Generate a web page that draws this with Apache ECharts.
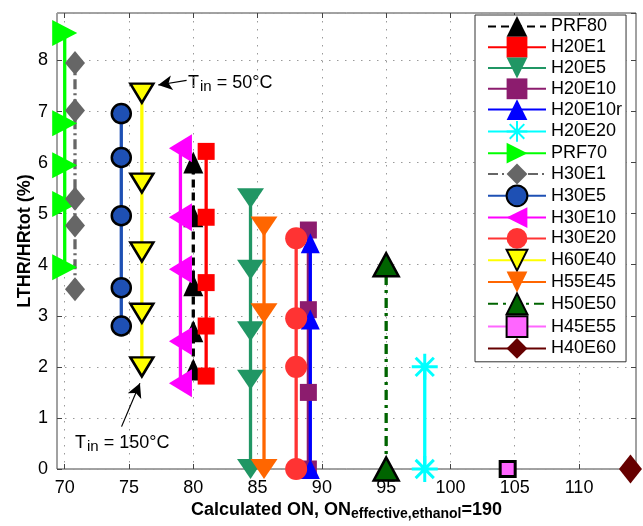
<!DOCTYPE html>
<html><head><meta charset="utf-8">
<script src="https://cdn.jsdelivr.net/npm/echarts@6/dist/echarts.min.js"></script>
<style>html,body{margin:0;padding:0;background:#fff}#c{width:643px;height:526px}</style>
</head><body><div id="c"></div>
<script>
// ---------- DATA ----------
const seriesNames = ['PRF80','H20E1','H20E5','H20E10','H20E10r','H20E20','PRF70','H30E1','H30E5','H30E10','H30E20','H60E40','H55E45','H50E50','H45E55','H40E60'];
const calcON = [80, 81, 84.45, 88.95, 89.1, 98, 70, 70.8, 74.4, 79, 88, 76, 85.5, 95, 104.45, 114];
const lthr_PRF80  = [1.95, 2.7, 3.6, 4.95, 6.0];
const lthr_H20E1  = [1.82, 2.8, 3.65, 4.93, 6.22];
const lthr_H20E5  = [0, 1.75, 2.7, 3.9, 5.3];
const lthr_H20E10 = [0, 1.5, 3.12, 4.68];
const lthr_H20E10r = [0, 2.93, 4.42];
const lthr_H20E20 = [0, 2.0];
const lthr_PRF70  = [3.95, 5.19, 5.95, 6.77, 8.54];
const lthr_H30E1  = [3.52, 4.77, 5.29, 7.02, 7.95];
const lthr_H30E5  = [2.8, 3.55, 4.96, 6.1, 6.96];
const lthr_H30E10 = [1.68, 2.5, 3.91, 4.93, 6.28];
const lthr_H30E20 = [0, 2.0, 2.95, 4.52];
const lthr_H60E40 = [2.0, 3.05, 4.25, 5.6, 7.36];
const lthr_H55E45 = [0, 3.05, 4.75];
const lthr_H50E50 = [0, 4.0];
const lthr_H45E55 = [0];
const lthr_H40E60 = [0];
const lthrValues = [lthr_PRF80, lthr_H20E1, lthr_H20E5, lthr_H20E10, lthr_H20E10r, lthr_H20E20, lthr_PRF70, lthr_H30E1, lthr_H30E5, lthr_H30E10, lthr_H30E20, lthr_H60E40, lthr_H55E45, lthr_H50E50, lthr_H45E55, lthr_H40E60];
const xTickLabels = [70, 75, 80, 85, 90, 95, 100, 105, 110];
const yTickLabels = [0, 1, 2, 3, 4, 5, 6, 7, 8];
const xRange = [69.4, 114.43];
const yRange = [0, 8.93];
// annotation arrows [tail, tip] in data coordinates
const arrow50 = [[79.48, 7.61], [77.27, 7.52]];
const arrow150 = [[74.42, 0.83], [75.85, 1.68]];

// ---------- STYLE ----------
const FONT = 'Liberation Sans, Arial, Helvetica, sans-serif';
const ASTER = 'path://M0,-10L0,10M-10,0L10,0M-7,-7L7,7M-7,7L7,-7';
const styles = {
  PRF80:   {color:'#000000', line:[8,5], symbol:'triangle', size:[20,22]},
  H20E1:   {color:'#ff0000', symbol:'rect', size:[17,17]},
  H20E5:   {color:'#209664', symbol:'triangle', size:[27,20], rotate:180},
  H20E10:  {color:'#8c1c6e', symbol:'rect', size:[17,17]},
  H20E10r: {color:'#0000ff', symbol:'triangle', size:[19,20]},
  H20E20:  {color:'#00ffff', symbol:ASTER, size:[26,26], border:'#00ffff', bw:3},
  PRF70:   {color:'#00ff00', symbol:'triangle', size:[26,25], rotate:-90},
  H30E1:   {color:'#666666', line:[10,4,2,4], symbol:'diamond', size:[20,24]},
  H30E5:   {color:'#1e50b4', symbol:'circle', size:[19,19], border:'#000', bw:2.5},
  H30E10:  {color:'#ff00ff', symbol:'triangle', size:[28,23], rotate:90},
  H30E20:  {color:'#ff3333', symbol:'circle', size:[22,22]},
  H60E40:  {color:'#ffff00', symbol:'triangle', size:[23,19], rotate:180, border:'#000', bw:2.5},
  H55E45:  {color:'#ff6600', symbol:'triangle', size:[27,20], rotate:180},
  H50E50:  {color:'#006400', line:[10,5,3,5], symbol:'triangle', size:[25,23], border:'#000', bw:2.5},
  H45E55:  {color:'#ff66ff', symbol:'rect', size:[15,15], border:'#000', bw:3},
  H40E60:  {color:'#660000', symbol:'diamond', size:[23,29]}
};

const W = 643, H = 526;
const g0 = {left:57, right:7, top:13, bottom:57};
const plotW = W - g0.left - g0.right;
const pxPerUnit = plotW / (xRange[1] - xRange[0]);
const g1 = {
  left: g0.left + (xTickLabels[0] - xRange[0]) * pxPerUnit,
  right: g0.right + (xRange[1] - xTickLabels[xTickLabels.length-1]) * pxPerUnit,
  top: g0.top, bottom: g0.bottom
};

const axisColor = '#444';
const gridDots = {color:'#9a9a9a', width:1, type:[1.5,6.5]};

const series = seriesNames.map((n, i) => {
  const st = styles[n];
  const s = {
    name: n, type: 'line', xAxisIndex: 0, yAxisIndex: 0,
    data: lthrValues[i].map(v => [calcON[i], v]),
    color: st.color,
    lineStyle: {color: st.color, width: 3.3, type: st.line || 'solid'},
    symbol: st.symbol, symbolSize: st.size, symbolRotate: st.rotate || 0,
    itemStyle: {color: st.color, borderColor: st.border || st.color, borderWidth: st.bw || 0, opacity: 1},
    showSymbol: true, showAllSymbol: true, clip: false, animation: false,
    emphasis: {disabled: true}, silent: true
  };
  if (n === 'H60E40') {
    s.markLine = {
      silent: true, animation: false,
      symbol: ['none', 'arrow'], symbolSize: [11, 14],
      lineStyle: {color: '#000', width: 1.2, type: 'solid'},
      label: {show: false},
      emphasis: {disabled: true},
      data: [
        [{coord: arrow50[0]}, {coord: arrow50[1]}],
        [{coord: arrow150[0]}, {coord: arrow150[1]}]
      ]
    };
  }
  return s;
});

const richT = {
  m: {fontSize: 18, fontFamily: FONT, color: '#000', lineHeight: 20, verticalAlign: 'top'},
  s: {fontSize: 15, fontFamily: FONT, color: '#000', lineHeight: 16, padding: [13, 0, 0, 1], verticalAlign: 'bottom'}
};

const option = {
  animation: false,
  backgroundColor: '#fff',
  grid: [
    {left: g0.left, right: g0.right, top: g0.top, bottom: g0.bottom, show: true, borderColor: axisColor, borderWidth: 1, backgroundColor: 'transparent'},
    {left: g1.left, right: g1.right, top: g1.top, bottom: g1.bottom, show: false}
  ],
  xAxis: [
    {type: 'value', gridIndex: 0, min: xRange[0], max: xRange[1],
     axisLine: {show: false}, axisTick: {show: false}, axisLabel: {show: false}, splitLine: {show: false}},
    {type: 'value', gridIndex: 1, position: 'bottom', min: xTickLabels[0], max: xTickLabels[xTickLabels.length-1], interval: 5,
     axisLine: {show: false},
     axisTick: {show: true, inside: true, length: 5, lineStyle: {color: axisColor}},
     axisLabel: {show: true, margin: 10, fontSize: 18, fontFamily: FONT, color: '#000'},
     splitLine: {show: true, lineStyle: gridDots}},
    {type: 'value', gridIndex: 1, position: 'top', min: xTickLabels[0], max: xTickLabels[xTickLabels.length-1], interval: 5,
     axisLine: {show: false},
     axisTick: {show: true, inside: true, length: 5, lineStyle: {color: axisColor}},
     axisLabel: {show: false}, splitLine: {show: false}}
  ],
  yAxis: [
    {type: 'value', gridIndex: 0, position: 'left', min: yRange[0], max: yRange[1], interval: 1,
     name: 'LTHR/HRtot (%)', nameLocation: 'middle', nameGap: 23, nameMoveOverlap: false,
     nameTextStyle: {fontSize: 18, fontWeight: 'bold', fontFamily: FONT, color: '#000'},
     axisLine: {show: false},
     axisTick: {show: true, inside: true, length: 5, lineStyle: {color: axisColor}},
     axisLabel: {show: true, margin: 9, fontSize: 18, fontFamily: FONT, color: '#000', showMaxLabel: false,
       formatter: v => (yTickLabels.indexOf(v) >= 0 ? String(v) : '')},
     splitLine: {show: true, lineStyle: gridDots}},
    {type: 'value', gridIndex: 0, position: 'right', min: yRange[0], max: yRange[1], interval: 1,
     axisLine: {show: false},
     axisTick: {show: true, inside: true, length: 5, lineStyle: {color: axisColor}},
     axisLabel: {show: false}, splitLine: {show: false}},
    {type: 'value', gridIndex: 1, show: false, min: yRange[0], max: yRange[1]}
  ],
  legend: {
    data: seriesNames, orient: 'vertical', left: 475, top: 15,
    itemWidth: 58, itemHeight: 26, itemGap: 0,
    padding: [1, 4, 3, 12],
    borderColor: '#333', borderWidth: 1, backgroundColor: '#fff', borderRadius: 0,
    textStyle: {fontSize: 18, fontFamily: FONT, color: '#000'},
    selectedMode: false
  },
  graphic: [
    {type: 'text', left: 188, top: 66.5, silent: true,
     style: {text: '{m|T}{s|in}{m| = 50°C}', rich: richT}},
    {type: 'text', left: 75, top: 426, silent: true,
     style: {text: '{m|T}{s|in}{m| = 150°C}', rich: richT}},
    {type: 'text', silent: true,
     style: {x: (g0.left + W - g0.right) / 2, y: 501, align: 'center', verticalAlign: 'top',
       text: '{m|Calculated ON, ON}{s|effective,ethanol}{m|=190}',
       rich: {
         m: {fontSize: 18, fontWeight: 'bold', fontFamily: FONT, color: '#000', lineHeight: 20, verticalAlign: 'top'},
         s: {fontSize: 14, fontWeight: 'bold', fontFamily: FONT, color: '#000', lineHeight: 16, padding: [11, 0, 0, 0], verticalAlign: 'bottom'}
       }}}
  ],
  series: series
};

const chart = echarts.init(document.getElementById('c'), null, {renderer: 'canvas', width: W, height: H});
chart.setOption(option);
</script>
</body></html>
